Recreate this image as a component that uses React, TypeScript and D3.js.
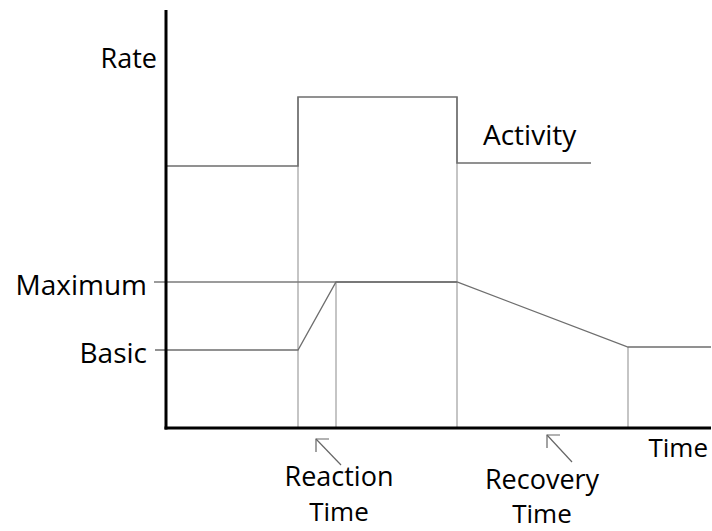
import React from "react";
import * as d3 from "d3";

// Time units (arbitrary), rate units (arbitrary)
const activityTimes = [0, 132, 132, 291, 291, 425];
const activityRates = [262, 262, 331, 331, 265, 265];

const responseTimes = [-11, 132, 170, 291, 462, 545];
const responseRates = [78, 78, 146, 146, 81, 81];

const maxLineTimes = [-12, 291];
const maxLevel = 146;

const guideTimes = [132, 170, 291, 462];
const guideTops = [331, 146, 331, 81];

const yLabels = ["Maximum", "Basic"];
const yLabelRates = [146, 78];

const arrowTails = [
  [175, -37],
  [406, -34],
];
const arrowTips = [
  [150, -11],
  [381, -7],
];

const W = 712;
const H = 531;

export default function App() {
  const x = d3.scaleLinear().domain([0, 545]).range([166, 711]);
  const y = d3.scaleLinear().domain([0, 418]).range([428, 10]);
  const line = d3
    .line<[number, number]>()
    .x((d) => x(d[0]))
    .y((d) => y(d[1]));

  const activity = activityTimes.map((t, i) => [t, activityRates[i]] as [number, number]);
  const response = responseTimes.map((t, i) => [t, responseRates[i]] as [number, number]);

  const font = "'Open Sans', sans-serif";

  return (
    <svg
      width={W}
      height={H}
      style={{ position: "absolute", left: 0, top: 0, background: "#fff" }}
    >
      {/* guide verticals */}
      {guideTimes.map((t, i) => (
        <line
          key={i}
          x1={x(t)}
          x2={x(t)}
          y1={y(guideTops[i])}
          y2={y(0)}
          stroke="#a6a6a6"
          strokeWidth={1.3}
        />
      ))}
      {/* maximum line */}
      <path
        d={line([[maxLineTimes[0], maxLevel], [maxLineTimes[1], maxLevel]]) || ""}
        fill="none"
        stroke="#7a7a7a"
        strokeWidth={1.3}
      />
      {/* activity */}
      <path d={line(activity) || ""} fill="none" stroke="#6e6e6e" strokeWidth={1.6} />
      {/* response */}
      <path d={line(response) || ""} fill="none" stroke="#6e6e6e" strokeWidth={1.3} />

      {/* axes */}
      <line x1={x(0)} x2={x(0)} y1={y(418)} y2={y(0) + 1.5} stroke="#000" strokeWidth={3} />
      <line x1={x(0) - 1.5} x2={x(545)} y1={y(0)} y2={y(0)} stroke="#000" strokeWidth={3} />

      {/* arrows */}
      {arrowTails.map((tail, i) => {
        const tip = arrowTips[i];
        const tx = x(tip[0]);
        const ty = y(tip[1]);
        return (
          <g key={i} stroke="#666" strokeWidth={1.2} fill="none">
            <line x1={x(tail[0])} y1={y(tail[1])} x2={tx} y2={ty} />
            <polyline points={`${tx + 13},${ty} ${tx},${ty} ${tx},${ty + 13}`} />
          </g>
        );
      })}

      {/* labels */}
      <text x={157} y={68} textAnchor="end" fontFamily={font} fontSize={27} fill="#000">
        Rate
      </text>
      {yLabels.map((l, i) => (
        <text
          key={l}
          x={147}
          y={y(yLabelRates[i]) + 13}
          textAnchor="end"
          fontFamily={font}
          fontSize={28}
          fill="#000"
        >
          {l}
        </text>
      ))}
      <text x={483} y={145} fontFamily={font} fontSize={28} fill="#000">
        Activity
      </text>
      <text x={708} y={457} textAnchor="end" fontFamily={font} fontSize={26} fill="#000">
        Time
      </text>
      <text x={339} y={486} textAnchor="middle" fontFamily={font} fontSize={27} fill="#000">
        Reaction
      </text>
      <text x={339} y={521} textAnchor="middle" fontFamily={font} fontSize={26} fill="#000">
        Time
      </text>
      <text x={542} y={489} textAnchor="middle" fontFamily={font} fontSize={27} fill="#000">
        Recovery
      </text>
      <text x={542} y={523} textAnchor="middle" fontFamily={font} fontSize={26} fill="#000">
        Time
      </text>
    </svg>
  );
}
